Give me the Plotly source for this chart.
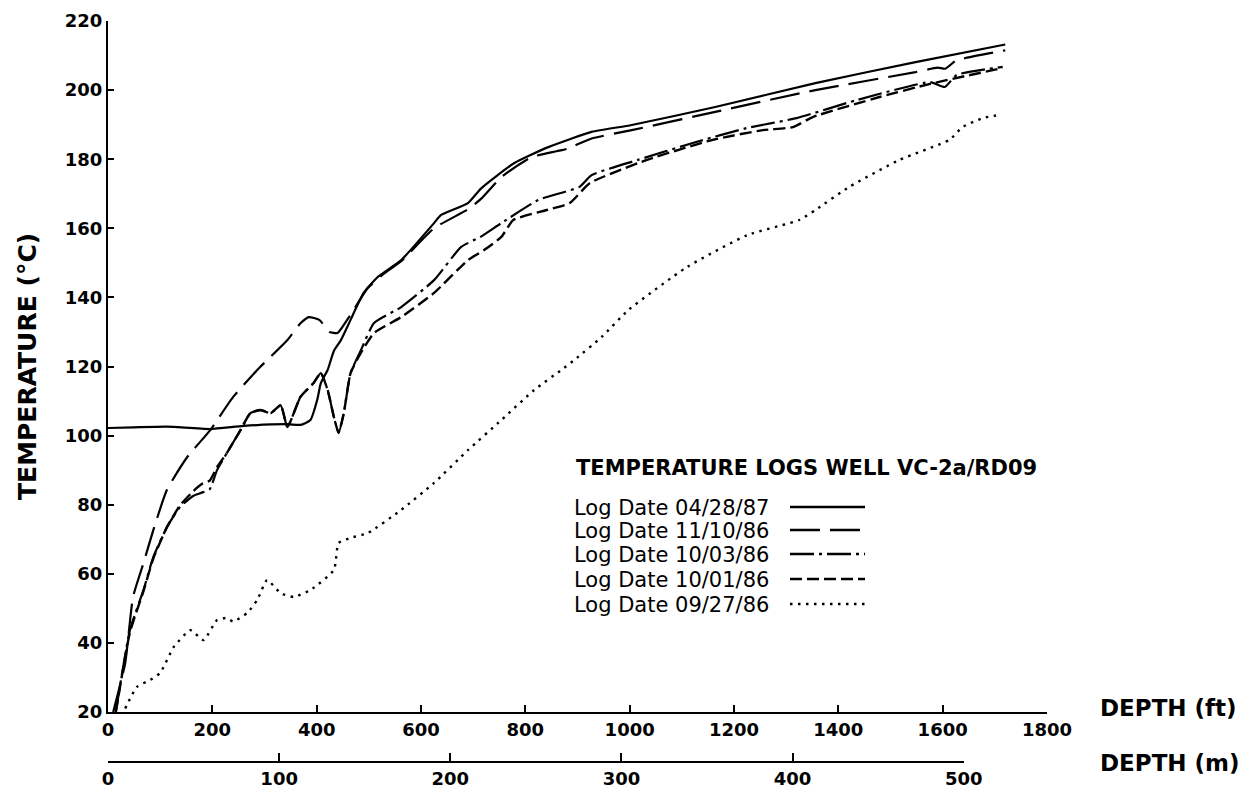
import plotly.graph_objects as go

# ---------------- data (depth in ft, temperature in degC) ----------------
d_0428 = [0, 50, 113, 196, 260, 344, 369, 388, 401, 408, 421, 433, 446, 465, 490, 517, 562, 625, 638, 690, 715, 779, 844, 927, 1004, 1164, 1356, 1548, 1720]
t_0428 = [102.2, 102.4, 102.6, 101.9, 102.8, 103.3, 103.1, 104.5, 110.3, 115.2, 119.0, 124.5, 127.5, 133.5, 141.3, 145.9, 150.8, 161.5, 163.8, 167.3, 171.5, 178.9, 183.5, 187.9, 189.9, 195.1, 202.0, 208.1, 213.2]

d_1110 = [10, 33, 48, 68, 87, 113, 152, 196, 240, 292, 344, 369, 385, 405, 425, 440, 465, 498, 530, 562, 625, 690, 715, 754, 812, 860, 880, 927, 1004, 1164, 1356, 1548, 1590, 1605, 1625, 1644, 1720]
t_1110 = [20, 34.2, 53.3, 63.1, 72.7, 84.3, 93.8, 101.6, 111.2, 119.9, 127.7, 132.5, 134.3, 133.5, 130.0, 129.7, 135.0, 142.7, 147.0, 150.5, 160.0, 165.5, 168.5, 174.8, 180.6, 182.3, 183.0, 186.0, 188.4, 193.7, 200.0, 205.2, 206.5, 206.2, 208.5, 209.3, 211.5]

d_1003 = [15, 42, 68, 87, 113, 138, 164, 180, 195, 209, 228, 254, 273, 292, 312, 331, 344, 369, 394, 408, 421, 433, 442, 452, 465, 485, 510, 562, 625, 677, 715, 754, 825, 904, 927, 1016, 1121, 1224, 1320, 1435, 1576, 1604, 1627, 1715]
t_1003 = [20, 43.7, 55.3, 64.9, 73.5, 79.3, 82.6, 83.5, 84.5, 90.0, 95.0, 101.6, 106.5, 107.4, 106.5, 108.8, 102.5, 111.2, 115.2, 118.1, 113.2, 105.4, 100.8, 106.5, 118.1, 124.8, 132.6, 137.2, 145.0, 154.6, 157.6, 161.5, 168.2, 172.0, 175.4, 179.8, 184.7, 189.0, 191.9, 197.1, 202.3, 200.9, 204.4, 206.7]

d_1001 = [15, 42, 68, 87, 113, 138, 164, 180, 195, 209, 228, 254, 273, 292, 312, 331, 344, 369, 394, 408, 421, 433, 442, 452, 465, 485, 510, 562, 625, 690, 721, 754, 777, 841, 885, 924, 1033, 1159, 1255, 1313, 1351, 1479, 1576, 1715]
t_1001 = [20, 43.0, 55.0, 64.5, 73.5, 79.8, 84.0, 86.0, 87.0, 90.9, 95.0, 101.6, 106.5, 107.4, 106.5, 108.8, 102.5, 111.2, 115.2, 118.1, 113.2, 105.4, 100.8, 106.5, 118.1, 124.0, 129.7, 134.3, 141.3, 150.8, 153.7, 157.5, 162.4, 165.3, 167.3, 173.1, 179.8, 185.6, 188.4, 189.3, 192.2, 198.0, 201.8, 206.4]

d_0927 = [33, 55, 81, 100, 126, 158, 183, 209, 228, 240, 267, 286, 305, 331, 356, 388, 433, 442, 465, 498, 562, 625, 690, 754, 817, 869, 894, 946, 998, 1110, 1225, 1325, 1356, 1421, 1517, 1613, 1638, 1677, 1709]
t_0927 = [21.0, 27.2, 29.3, 31.3, 38.8, 43.7, 40.8, 46.6, 47.2, 46.2, 48.7, 52.4, 58.2, 54.4, 53.3, 55.3, 61.1, 68.9, 70.4, 71.8, 78.5, 86.3, 95.8, 104.5, 113.2, 119.0, 121.9, 128.5, 136.4, 148.8, 158.0, 162.4, 165.3, 172.0, 179.8, 185.6, 189.3, 191.9, 192.8]

series_names = ["Log Date 04/28/87", "Log Date 11/10/86", "Log Date 10/03/86",
                "Log Date 10/01/86", "Log Date 09/27/86"]
series_depths = [d_0428, d_1110, d_1003, d_1001, d_0927]
series_temps = [t_0428, t_1110, t_1003, t_1001, t_0927]

legend_title = "TEMPERATURE LOGS WELL VC-2a/RD09"
ft_ticks = [0, 200, 400, 600, 800, 1000, 1200, 1400, 1600, 1800]
m_ticks = [0, 100, 200, 300, 400, 500]
y_ticks = [20, 40, 60, 80, 100, 120, 140, 160, 180, 200, 220]
FT_PER_M = 3.28084

# ---------------- styling ----------------
dashes = ["solid", "30px,10px", "24px,5px,3px,5px", "12px,5px", "2.5px,5.5px"]
widths = [2.2, 2.2, 2.2, 2.4, 2.4]

W_FIG, H_FIG = 1252, 793
L, R, T, B = 108, 1047, 21, 762  # plot box in pixels (B = metre axis line)
FT_AXIS_Y = 712


def px(x):
    return (x - L) / (R - L)


def py(y):
    return (B - y) / (B - T)


fig = go.Figure()
# dummy trace first so the metre axis is drawn (and its subplot sits underneath)
fig.add_trace(go.Scatter(x=[0, 500], y=[None, None], xaxis="x2", yaxis="y",
                         mode="lines", showlegend=False, hoverinfo="skip"))
for name, dd, tt, dash, w in zip(series_names, series_depths, series_temps, dashes, widths):
    fig.add_trace(go.Scatter(
        x=dd, y=tt, mode="lines", name=name, showlegend=False,
        line=dict(color="black", width=w, dash=dash, shape="spline", smoothing=0.5),
    ))

tickfont_b = dict(family="DejaVu Sans", size=18, color="black", weight="bold")

fig.update_layout(
    width=W_FIG, height=H_FIG,
    margin=dict(l=L, r=W_FIG - R, t=T, b=H_FIG - B, autoexpand=False),
    paper_bgcolor="white", plot_bgcolor="rgba(0,0,0,0)",
    showlegend=False,
    xaxis=dict(range=[0, 1800], domain=[0, 1], anchor="y", tickvals=ft_ticks,
               ticks="inside", ticklen=7, tickwidth=2, tickcolor="black",
               showline=True, linewidth=2, linecolor="black", automargin=False,
               showgrid=False, zeroline=False, tickfont=tickfont_b),
    yaxis=dict(range=[20, 220], domain=[py(FT_AXIS_Y), 1], anchor="x", tickvals=y_ticks,
               ticks="inside", ticklen=6, tickwidth=2, tickcolor="black",
               showline=True, linewidth=2, linecolor="black", automargin=False,
               showgrid=False, zeroline=False, tickfont=tickfont_b),
    xaxis2=dict(range=[0, 500], domain=[0, 500 * FT_PER_M / 1800], anchor="free", position=0,
                tickvals=m_ticks, ticks="inside", ticklen=8, tickwidth=2, tickcolor="black",
                showline=True, linewidth=2, linecolor="black", automargin=False,
                showgrid=False, zeroline=False, tickfont=tickfont_b),
)

ann_font_b = dict(family="DejaVu Sans", size=23, color="black", weight="bold")
annotations = [
    dict(text="DEPTH (ft)", x=px(1098), y=py(708), xref="paper", yref="paper",
         xanchor="left", yanchor="middle", showarrow=False, font=ann_font_b),
    dict(text="DEPTH (m)", x=px(1098), y=py(763), xref="paper", yref="paper",
         xanchor="left", yanchor="middle", showarrow=False, font=ann_font_b),
    dict(text="TEMPERATURE (°C)", x=px(27), y=py(367), xref="paper", yref="paper",
         xanchor="center", yanchor="middle", textangle=-90, showarrow=False,
         font=dict(family="DejaVu Sans", size=25, color="black", weight="bold")),
    dict(text=legend_title, x=px(574), y=py(468), xref="paper", yref="paper",
         xanchor="left", yanchor="middle", showarrow=False,
         font=dict(family="DejaVu Sans", size=21, color="black", weight="bold")),
]
entry_y = [508, 531, 555, 580, 605]
shapes = []
for name, dash, yy in zip(series_names, dashes, entry_y):
    annotations.append(dict(text=name, x=px(572), y=py(yy), xref="paper", yref="paper",
                            xanchor="left", yanchor="middle", showarrow=False,
                            font=dict(family="DejaVu Sans", size=21, color="black")))
    shapes.append(dict(type="line", xref="paper", yref="paper",
                       x0=px(790), x1=px(865), y0=py(yy - 1), y1=py(yy - 1),
                       line=dict(color="black", width=2.4, dash=dash)))
fig.update_layout(annotations=annotations, shapes=shapes)

fig.write_html("out.html")
